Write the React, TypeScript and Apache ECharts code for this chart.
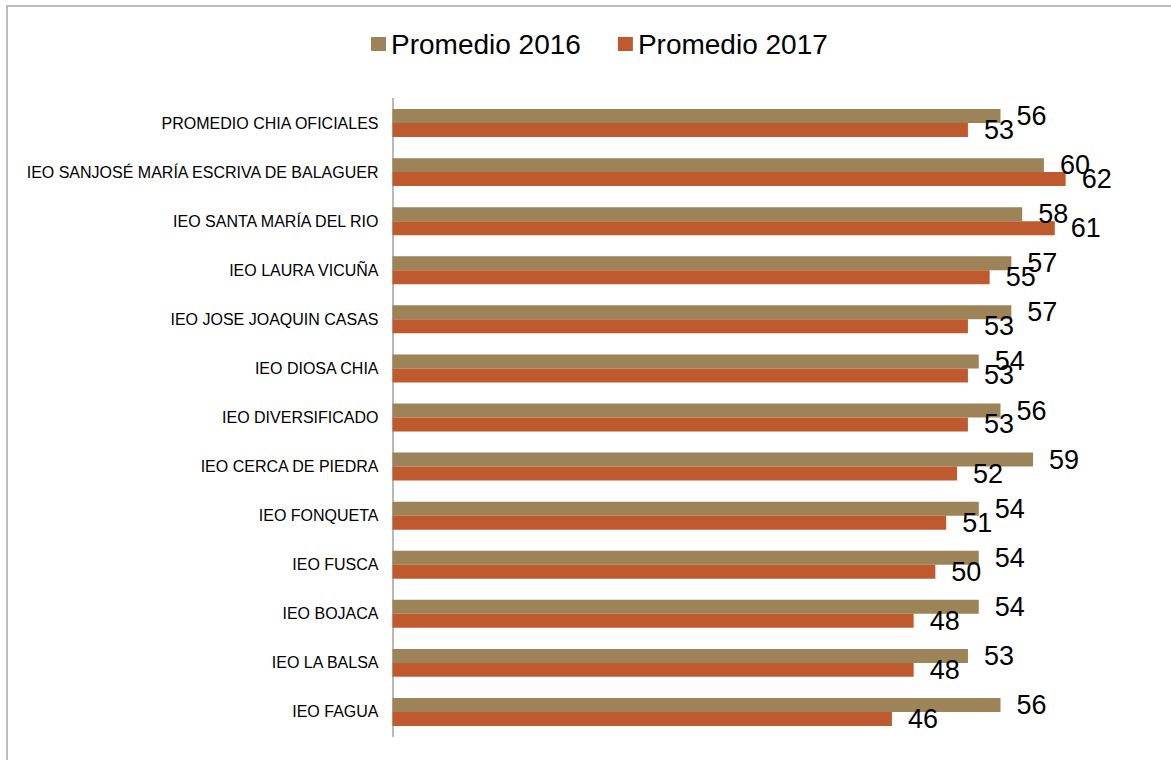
import React, { useEffect, useRef } from "react";
import * as echarts from "echarts";

const categories = [
  "PROMEDIO CHIA OFICIALES",
  "IEO SANJOSÉ MARÍA ESCRIVA DE BALAGUER",
  "IEO SANTA MARÍA DEL RIO",
  "IEO LAURA VICUÑA",
  "IEO JOSE JOAQUIN CASAS",
  "IEO DIOSA CHIA",
  "IEO DIVERSIFICADO",
  "IEO CERCA DE PIEDRA",
  "IEO FONQUETA",
  "IEO FUSCA",
  "IEO BOJACA",
  "IEO LA BALSA",
  "IEO FAGUA",
];
const promedio2016 = [56, 60, 58, 57, 57, 54, 56, 59, 54, 54, 54, 53, 56];
const promedio2017 = [53, 62, 61, 55, 53, 53, 53, 52, 51, 50, 48, 48, 46];
const seriesNames = ["Promedio 2016", "Promedio 2017"];

export default function App() {
  const ref = useRef<HTMLDivElement>(null);
  useEffect(() => {
    if (!ref.current) return;
    const chart = echarts.init(ref.current, null, { renderer: "svg" });
    const font = "Liberation Sans, Arial, sans-serif";
    const label = {
      show: true,
      position: "right",
      distance: 16,
      fontSize: 27,
      fontFamily: font,
      color: "#000",
    };
    chart.setOption({
      animation: false,
      backgroundColor: "#fff",
      graphic: [
        {
          type: "polyline",
          shape: { points: [[7, 760], [7, 6], [1171, 6]] },
          style: { stroke: "#a8a8a8", lineWidth: 1.5, fill: "none" },
          silent: true,
        },
      ],
      legend: {
        left: 366,
        top: 25,
        itemWidth: 15,
        itemHeight: 14,
        itemGap: 37,
        icon: "rect",
        textStyle: { fontSize: 28, fontFamily: font, color: "#000" },
        data: seriesNames,
      },
      grid: { left: 392.5, right: 18.5, top: 98.5, bottom: 23.5, containLabel: false },
      xAxis: {
        type: "value",
        min: 0,
        max: 70,
        show: false,
      },
      yAxis: {
        type: "category",
        inverse: true,
        data: categories,
        axisLine: { show: true, lineStyle: { color: "#a0a0a0", width: 1.5 } },
        axisTick: { show: false },
        axisLabel: { fontSize: 16, fontFamily: font, color: "#000", margin: 14 },
      },
      series: [
        {
          name: seriesNames[0],
          type: "bar",
          data: promedio2016,
          barGap: "0%",
          barCategoryGap: "43%",
          itemStyle: { color: "#9C8358" },
          label,
        },
        {
          name: seriesNames[1],
          type: "bar",
          data: promedio2017,
          barGap: "0%",
          barCategoryGap: "43%",
          itemStyle: { color: "#BF5A2E" },
          label,
        },
      ],
    });
    return () => chart.dispose();
  }, []);
  return (
    <div
      ref={ref}
      style={{ position: "fixed", left: 0, top: 0, width: 1171, height: 760 }}
    />
  );
}
